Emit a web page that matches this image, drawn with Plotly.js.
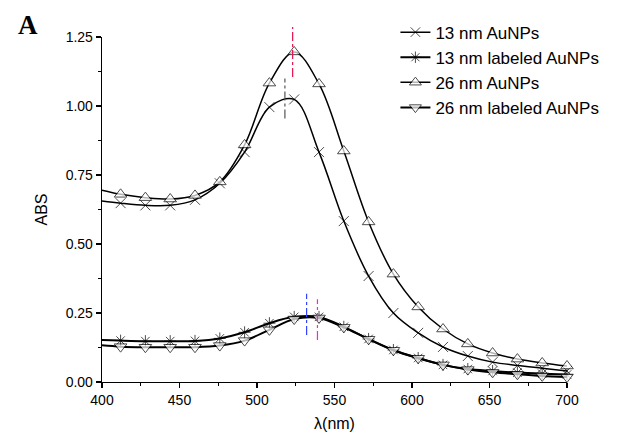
<!DOCTYPE html>
<html>
<head>
<meta charset="utf-8">
<script src="https://cdn.plot.ly/plotly-3.0.1.min.js"></script>
<style>html,body{margin:0;padding:0;background:#fff;}#chart{width:621px;height:438px;}</style>
</head>
<body>
<div id="chart"></div>
<script>
// Wavelength (nm); first point (400) carries the line only, markers every 16 nm from 412
var wavelength = [400, 412, 428, 444, 460, 476, 492, 508, 524, 540, 556, 572, 588, 604, 620, 636, 652, 668, 684, 700];
var au13 = [0.656, 0.648, 0.640, 0.640, 0.660, 0.720, 0.833, 0.996, 1.024, 0.833, 0.583, 0.384, 0.250, 0.178, 0.127, 0.094, 0.072, 0.060, 0.050, 0.040];
var au13Labeled = [0.152, 0.150, 0.148, 0.148, 0.149, 0.158, 0.180, 0.213, 0.236, 0.236, 0.200, 0.156, 0.116, 0.087, 0.062, 0.047, 0.040, 0.034, 0.030, 0.027];
var au26 = [0.695, 0.680, 0.668, 0.663, 0.676, 0.725, 0.859, 1.083, 1.196, 1.080, 0.837, 0.580, 0.391, 0.272, 0.192, 0.138, 0.105, 0.083, 0.069, 0.058];
var au26Labeled = [0.133, 0.128, 0.126, 0.126, 0.126, 0.132, 0.150, 0.189, 0.228, 0.232, 0.198, 0.155, 0.115, 0.086, 0.062, 0.045, 0.035, 0.028, 0.022, 0.018];
var seriesNames = ['13 nm AuNPs', '13 nm labeled AuNPs', '26 nm AuNPs', '26 nm labeled AuNPs'];

// Peak position guides (nm, lower ABS, upper ABS)
var peakNm = [523, 518, 532, 539];
var peakLow = [1.105, 0.955, 0.170, 0.152];
var peakHigh = [1.286, 1.100, 0.320, 0.300];

var xTicks = [400, 450, 500, 550, 600, 650, 700];
var yTicks = [0, 0.25, 0.5, 0.75, 1.0, 1.25];

var series = [au13, au13Labeled, au26, au26Labeled];
var symbols = ['x-thin-open', 'asterisk-open', 'triangle-up', 'triangle-down'];
var msizes = [10, 10, 11, 11];
var lwidths = [1.5, 2, 1.5, 2];
var guideColors = ['#e8104a', '#555555', '#3344ff', '#ff22cc'];
var yMax = 1.25;
var FAM = 'Liberation Sans, Arial, sans-serif';

var traces = series.map(function (ys, i) {
  return {
    x: wavelength, y: ys, name: seriesNames[i], type: 'scatter', mode: 'lines+markers',
    line: {color: '#000', width: lwidths[i], shape: 'spline', smoothing: 1},
    marker: {
      symbol: symbols[i],
      size: wavelength.map(function (w, k) { return k === 0 ? 0 : msizes[i]; }),
      color: symbols[i].indexOf('triangle') === 0 ? '#fff' : '#000',
      line: {color: '#000', width: 1}
    },
    cliponaxis: false
  };
});

var shapes = peakNm.map(function (nm, i) {
  return {
    type: 'line', xref: 'x', yref: 'paper', x0: nm, x1: nm,
    y0: peakLow[i] / yMax, y1: peakHigh[i] / yMax,
    line: {color: guideColors[i], width: 1.2, dash: 'dashdot'}, layer: 'above'
  };
});

var tickFont = {family: FAM, size: 14, color: '#000'};

var layout = {
  width: 621, height: 438,
  margin: {l: 102, r: 54, t: 37, b: 56},
  paper_bgcolor: '#fff', plot_bgcolor: '#fff',
  font: {family: FAM, size: 14, color: '#000'},
  showlegend: true,
  legend: {x: 0.631, y: 1.065, xanchor: 'left', yanchor: 'top', bgcolor: 'rgba(0,0,0,0)',
           font: {family: FAM, size: 17, color: '#000'},
           tracegroupgap: 0, itemwidth: 30},
  xaxis: {
    range: [400, 700], tickvals: xTicks, ticktext: xTicks.map(String),
    showgrid: false, zeroline: false, showline: true, linecolor: '#000', linewidth: 1.3,
    ticks: 'outside', ticklen: 5, tickwidth: 1.3, tickcolor: '#000',
    minor: {dtick: 25, ticks: 'outside', ticklen: 3, tickwidth: 1.3, tickcolor: '#000', showgrid: false},
    title: {text: 'λ(nm)', font: {family: FAM, size: 16}, standoff: 10},
    tickfont: tickFont
  },
  yaxis: {
    range: [0, yMax], tickvals: yTicks, ticktext: yTicks.map(function (v) { return v.toFixed(2); }),
    showgrid: false, zeroline: false, showline: true, linecolor: '#000', linewidth: 1.3,
    ticks: 'outside', ticklen: 5, tickwidth: 1.3, tickcolor: '#000',
    minor: {dtick: 0.125, ticks: 'outside', ticklen: 3, tickwidth: 1.3, tickcolor: '#000', showgrid: false},
    title: {text: 'ABS', font: {family: FAM, size: 16}, standoff: 14},
    tickfont: tickFont
  },
  shapes: shapes,
  annotations: [{
    text: '<b>A</b>', xref: 'paper', yref: 'paper', x: -0.185, y: 1.085, xanchor: 'left', yanchor: 'top',
    showarrow: false, font: {family: 'Liberation Serif, Times New Roman, serif', size: 27, color: '#000'}
  }]
};

Plotly.newPlot('chart', traces, layout, {displayModeBar: false, staticPlot: true});
</script>
</body>
</html>
